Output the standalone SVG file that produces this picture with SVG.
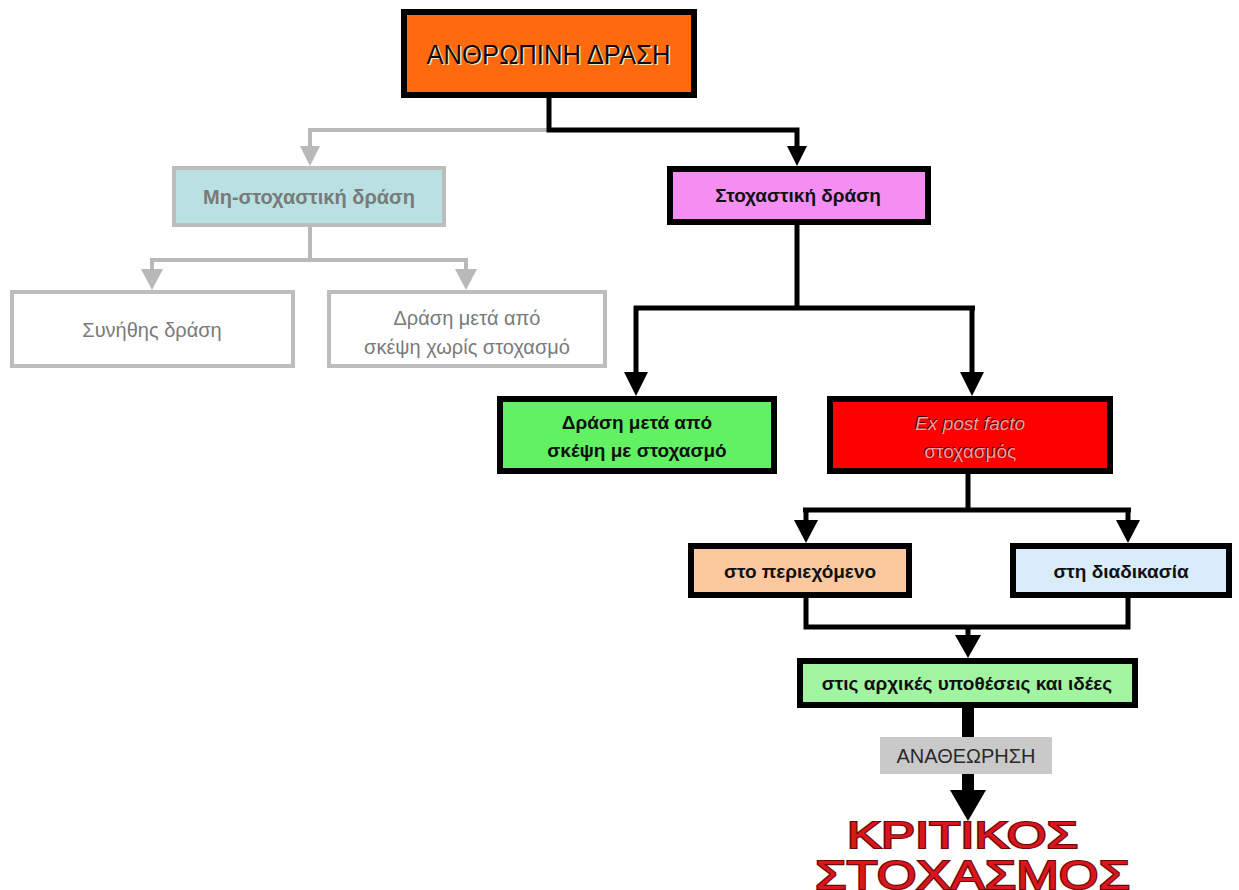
<svg xmlns="http://www.w3.org/2000/svg" width="1239" height="890" viewBox="0 0 1239 890">
  <style>
    .lbl { font-family: "Liberation Sans", Arial, sans-serif; font-weight: bold; font-size: 19px; fill: #111; text-anchor: middle; }
    .grey-lbl { font-family: "Liberation Sans", Arial, sans-serif; font-size: 20px; fill: #7a7a7a; text-anchor: middle; }
    .box { stroke: #000; stroke-width: 6; }
    .gbox { stroke: #bdbdbd; stroke-width: 4; }
    .wire { fill: none; stroke: #000; stroke-width: 5; }
    .gwire { fill: none; stroke: #b9b9b9; stroke-width: 4; }
    .big { font-family: "Liberation Sans", Arial, sans-serif; fill: #d8161c; stroke: #6e0808; stroke-width: 2.2; paint-order: stroke; }
  </style>
  <rect width="1239" height="890" fill="#fff"/>

  <!-- connectors -->
  <g id="connectors">
    <path class="gwire" d="M549,130 H310 V147"/>
    <path d="M300,146 L320,146 L310,166 Z" fill="#b9b9b9"/>
    <path class="wire" d="M549,98 V130 H797 V148"/>
    <path d="M787,146 L807,146 L797,166 Z" fill="#000"/>

    <path class="gwire" d="M310,227 V260 M152,260 H466 M152,258 V272 M466,258 V272"/>
    <path d="M141,269 L163,269 L152,290 Z" fill="#b9b9b9"/>
    <path d="M455,269 L477,269 L466,290 Z" fill="#b9b9b9"/>

    <path class="wire" d="M797,225 V308 M634,308 H975 M636,306 V374 M972,306 V374"/>
    <path d="M624,372 L648,372 L636,396 Z" fill="#000"/>
    <path d="M960,372 L984,372 L972,396 Z" fill="#000"/>

    <path class="wire" d="M968,474 V510 M803,510 H1131 M806,508 V522 M1128,508 V522"/>
    <path d="M794,520 L818,520 L806,543 Z" fill="#000"/>
    <path d="M1116,520 L1140,520 L1128,543 Z" fill="#000"/>

    <path class="wire" d="M806,598 V627 H1128 V598 M968,627 V638"/>
    <path d="M955,635 L981,635 L968,658 Z" fill="#000"/>

    <path d="M968,708 V738" stroke="#000" stroke-width="12" fill="none"/>
    <path d="M968,774 V794" stroke="#000" stroke-width="12" fill="none"/>
    <path d="M950,790 L986,790 L968,821 Z" fill="#000"/>
  </g>

  <!-- root node -->
  <g id="n-human-action">
    <rect class="box" x="404" y="12" width="290" height="83" fill="#ff6a0e"/>
    <text x="550" y="65" font-family="'Liberation Sans', Arial, sans-serif" font-size="27" fill="#f6e6c8" text-anchor="middle" textLength="244" lengthAdjust="spacingAndGlyphs">ΑΝΘΡΩΠΙΝΗ ΔΡΑΣΗ</text>
    <text x="548.5" y="63.5" font-family="'Liberation Sans', Arial, sans-serif" font-size="27" fill="#0c0c0c" text-anchor="middle" textLength="244" lengthAdjust="spacingAndGlyphs">ΑΝΘΡΩΠΙΝΗ ΔΡΑΣΗ</text>
  </g>

  <!-- non-reflective branch -->
  <g id="n-non-reflective">
    <rect class="gbox" x="174" y="168" width="270" height="57" fill="#b9e1e2"/>
    <text x="309" y="204" class="grey-lbl" font-weight="bold">Μη-στοχαστική δράση</text>
  </g>
  <g id="n-habitual">
    <rect class="gbox" x="12" y="292" width="281" height="74" fill="#fff"/>
    <text x="152" y="337" class="grey-lbl">Συνήθης δράση</text>
  </g>
  <g id="n-thought-no-reflection">
    <rect class="gbox" x="329" y="292" width="276" height="74" fill="#fff"/>
    <text x="467" y="325" class="grey-lbl">Δράση μετά από</text>
    <text x="467" y="354" class="grey-lbl">σκέψη χωρίς στοχασμό</text>
  </g>

  <!-- reflective branch -->
  <g id="n-reflective">
    <rect class="box" x="670" y="169" width="258" height="53" fill="#f58ef3"/>
    <text x="798" y="202" class="lbl">Στοχαστική δράση</text>
  </g>
  <g id="n-thought-reflection">
    <rect class="box" x="500" y="399" width="274" height="72" fill="#62f162"/>
    <text x="637" y="429" class="lbl">Δράση μετά από</text>
    <text x="637" y="457" class="lbl">σκέψη με στοχασμό</text>
  </g>
  <g id="n-ex-post-facto">
    <rect class="box" x="830" y="399" width="280" height="72" fill="#ff0000"/>
    <g font-family="'Liberation Sans', Arial, sans-serif" font-size="19" text-anchor="middle">
      <text x="969" y="429" font-style="italic" fill="#3a0000">Ex post facto</text>
      <text x="970.2" y="430.2" font-style="italic" fill="#ff9a9a">Ex post facto</text>
      <text x="969" y="457" fill="#3a0000">στοχασμός</text>
      <text x="970.2" y="458.2" fill="#ff9a9a">στοχασμός</text>
    </g>
  </g>

  <g id="n-content">
    <rect class="box" x="691" y="546" width="218" height="49" fill="#fcc89e"/>
    <text x="800" y="578" class="lbl">στο περιεχόμενο</text>
  </g>
  <g id="n-process">
    <rect class="box" x="1013" y="546" width="216" height="49" fill="#d8ecfa"/>
    <text x="1121" y="578" class="lbl">στη διαδικασία</text>
  </g>

  <g id="n-assumptions">
    <rect class="box" x="800" y="661" width="335" height="44" fill="#a1f5a1"/>
    <text x="967" y="690" class="lbl">στις αρχικές υποθέσεις και ιδέες</text>
  </g>

  <g id="n-revision">
    <rect x="880" y="737" width="172" height="37" fill="#c9c9c9"/>
    <text x="966" y="763" font-family="'Liberation Sans', Arial, sans-serif" font-size="20" fill="#2a2a2a" text-anchor="middle">ΑΝΑΘΕΩΡΗΣΗ</text>
  </g>

  <g id="n-critical-reflection">
    <text class="big" x="847" y="848" font-size="36" textLength="231" lengthAdjust="spacingAndGlyphs">ΚΡΙΤΙΚΟΣ</text>
    <text class="big" x="815" y="889" font-size="41" textLength="315" lengthAdjust="spacingAndGlyphs">ΣΤΟΧΑΣΜΟΣ</text>
  </g>
</svg>
